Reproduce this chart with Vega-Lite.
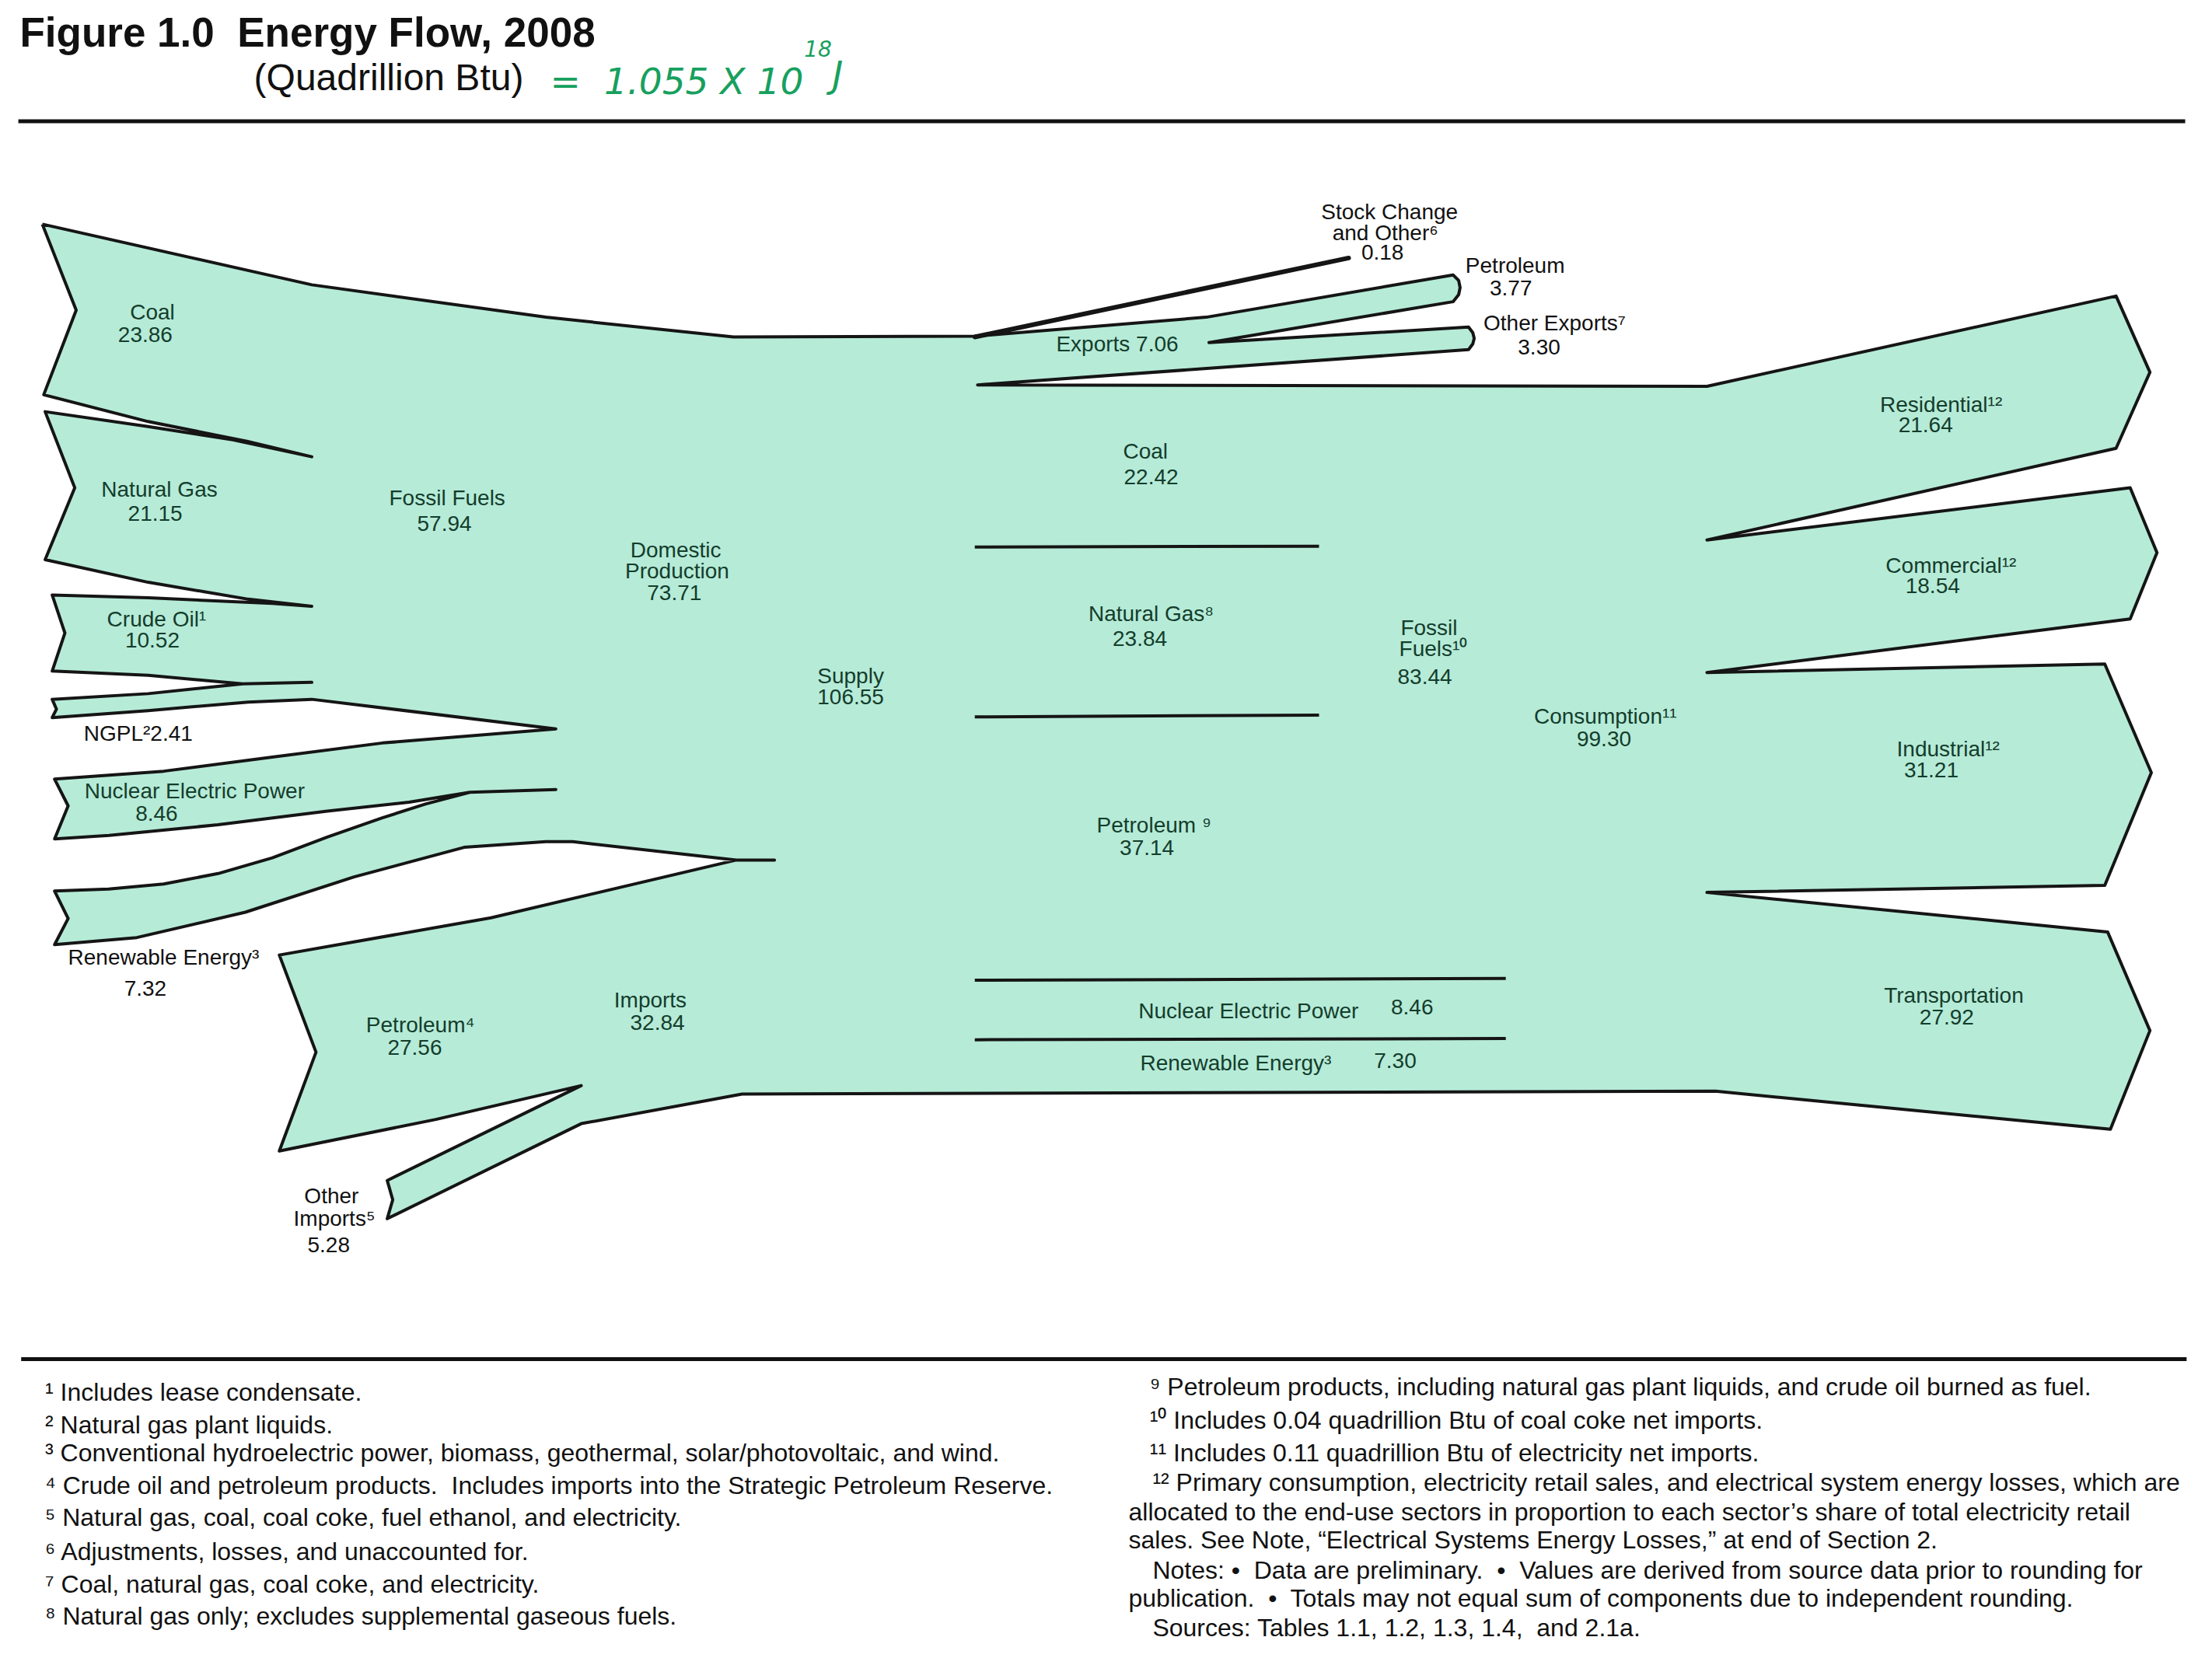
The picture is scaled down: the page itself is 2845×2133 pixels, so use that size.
{
  "$schema": "https://vega.github.io/schema/vega-lite/v6.json",
  "width": 2845,
  "height": 2133,
  "autosize": {"type": "fit", "contains": "padding"},
  "padding": 0,
  "background": "white",
  "config": {"view": {"stroke": null}, "text": {"font": "Liberation Sans"}},
  "datasets": {
    "outline": [
      {"i":0,"x":30,"y":159},{"i":1,"x":221,"y":202},{"i":2,"x":387,"y":225},{"i":3,"x":520,"y":239},{"i":4,"x":691,"y":238.5},
      {"i":5,"x":855,"y":225},{"i":6,"x":1030,"y":195},{"i":7,"x":1034,"y":199},{"i":8,"x":1035,"y":204},{"i":9,"x":1034,"y":209},{"i":10,"x":1030,"y":214},
      {"i":11,"x":857,"y":243},{"i":12,"x":1041,"y":232},{"i":13,"x":1044,"y":236},{"i":14,"x":1045,"y":240},{"i":15,"x":1044,"y":244},{"i":16,"x":1041,"y":248},
      {"i":17,"x":693,"y":273},{"i":18,"x":1210,"y":274},{"i":19,"x":1500,"y":210},{"i":20,"x":1524,"y":264},{"i":21,"x":1500,"y":318},{"i":22,"x":1210,"y":383},
      {"i":23,"x":1510,"y":346},{"i":24,"x":1529,"y":392},{"i":25,"x":1510,"y":439},{"i":26,"x":1210,"y":477},
      {"i":27,"x":1492,"y":471},{"i":28,"x":1525,"y":548},{"i":29,"x":1492,"y":628},{"i":30,"x":1210,"y":633},
      {"i":31,"x":1494,"y":661},{"i":32,"x":1524,"y":731},{"i":33,"x":1496,"y":801},{"i":34,"x":1216,"y":774},
      {"i":35,"x":526,"y":776},{"i":36,"x":412,"y":797},{"i":37,"x":274.5,"y":864.4},{"i":38,"x":278.4,"y":851},{"i":39,"x":274.5,"y":837.3},
      {"i":40,"x":412,"y":770},{"i":41,"x":309,"y":794},{"i":42,"x":198,"y":816.4},{"i":43,"x":224,"y":746.3},{"i":44,"x":198,"y":677.4},
      {"i":45,"x":348,"y":651},{"i":46,"x":522,"y":610},{"i":47,"x":549,"y":610},{"i":48,"x":522,"y":610},
      {"i":49,"x":406,"y":597},{"i":50,"x":387,"y":597},{"i":51,"x":329,"y":601},{"i":52,"x":251,"y":622},{"i":53,"x":174,"y":647},{"i":54,"x":97,"y":665},
      {"i":55,"x":38.7,"y":670},{"i":56,"x":48.3,"y":651.5},{"i":57,"x":38.7,"y":632},
      {"i":58,"x":77,"y":630.6},{"i":59,"x":116,"y":627},{"i":60,"x":154.6,"y":619.6},{"i":61,"x":193,"y":608.5},{"i":62,"x":232,"y":593.7},{"i":63,"x":270.6,"y":580.2},{"i":64,"x":301.6,"y":570.3},
      {"i":65,"x":333,"y":562},{"i":66,"x":394,"y":560},{"i":67,"x":333,"y":562},
      {"i":68,"x":290,"y":569},{"i":69,"x":232,"y":575.3},{"i":70,"x":154.6,"y":585},{"i":71,"x":77.3,"y":592.5},{"i":72,"x":38.7,"y":595},
      {"i":73,"x":48.3,"y":571.6},{"i":74,"x":38.7,"y":552.6},
      {"i":75,"x":116,"y":547},{"i":76,"x":193,"y":537},{"i":77,"x":271,"y":527},{"i":78,"x":394,"y":517},
      {"i":79,"x":221,"y":496},{"i":80,"x":176,"y":498},{"i":81,"x":105,"y":504},{"i":82,"x":37,"y":509},{"i":83,"x":40,"y":503},{"i":84,"x":37,"y":496},
      {"i":85,"x":105,"y":492},{"i":86,"x":172,"y":485},{"i":87,"x":221,"y":484},{"i":88,"x":172,"y":485},{"i":89,"x":105,"y":479},{"i":90,"x":37,"y":476},
      {"i":91,"x":46,"y":449},{"i":92,"x":37,"y":422},{"i":93,"x":105,"y":424},{"i":94,"x":193,"y":428},{"i":95,"x":221,"y":430},
      {"i":96,"x":176,"y":425},{"i":97,"x":105,"y":413},{"i":98,"x":32,"y":397},{"i":99,"x":53,"y":346},{"i":100,"x":32,"y":292},
      {"i":101,"x":105,"y":302.5},{"i":102,"x":165,"y":312},{"i":103,"x":221,"y":324},{"i":104,"x":175,"y":313},{"i":105,"x":105,"y":299},
      {"i":106,"x":31,"y":280},{"i":107,"x":54,"y":220},{"i":108,"x":30,"y":159}
    ],
    "dividers": [
      {"seg":"a","i":0,"x":691,"y":388},{"seg":"a","i":1,"x":935,"y":387.4},
      {"seg":"b","i":0,"x":691,"y":508.5},{"seg":"b","i":1,"x":935,"y":507.2},
      {"seg":"c","i":0,"x":691,"y":695.3},{"seg":"c","i":1,"x":1067.4,"y":694},
      {"seg":"d","i":0,"x":691,"y":737.5},{"seg":"d","i":1,"x":1067.4,"y":736.6}
    ],
    "stock": [{"i":0,"x":691,"y":239},{"i":1,"x":956,"y":183}],
    "rules": [
      {"seg":"top","i":0,"x":13,"y":86},{"seg":"top","i":1,"x":1549,"y":86},
      {"seg":"bot","i":0,"x":15,"y":964},{"seg":"bot","i":1,"x":1550,"y":964}
    ],
    "inLabels": [
      {"x":108,"y":222,"t":"Coal"},{"x":103,"y":238,"t":"23.86"},
      {"x":113,"y":348,"t":"Natural Gas"},{"x":110,"y":365,"t":"21.15"},
      {"x":111,"y":440,"t":"Crude Oil¹"},{"x":108,"y":455,"t":"10.52"},
      {"x":138,"y":562,"t":"Nuclear Electric Power"},{"x":111,"y":578,"t":"8.46"},
      {"x":317,"y":354,"t":"Fossil Fuels"},{"x":315,"y":372,"t":"57.94"},
      {"x":479,"y":391,"t":"Domestic"},{"x":480,"y":406,"t":"Production"},{"x":478,"y":421,"t":"73.71"},
      {"x":603,"y":480,"t":"Supply"},{"x":603,"y":495,"t":"106.55"},
      {"x":298,"y":728,"t":"Petroleum⁴"},{"x":294,"y":744,"t":"27.56"},
      {"x":461,"y":710,"t":"Imports"},{"x":466,"y":726,"t":"32.84"},
      {"x":792,"y":245,"t":"Exports 7.06"},
      {"x":812,"y":321,"t":"Coal"},{"x":816,"y":339,"t":"22.42"},
      {"x":816,"y":436,"t":"Natural Gas⁸"},{"x":808,"y":454,"t":"23.84"},
      {"x":1013,"y":446,"t":"Fossil"},{"x":1016,"y":461,"t":"Fuels¹⁰"},{"x":1010,"y":481,"t":"83.44"},
      {"x":818,"y":586,"t":"Petroleum ⁹"},{"x":813,"y":602,"t":"37.14"},
      {"x":885,"y":718,"t":"Nuclear Electric Power"},{"x":1001,"y":715,"t":"8.46"},
      {"x":876,"y":755,"t":"Renewable Energy³"},{"x":989,"y":753,"t":"7.30"},
      {"x":1138,"y":509,"t":"Consumption¹¹"},{"x":1137,"y":525,"t":"99.30"},
      {"x":1376,"y":288,"t":"Residential¹²"},{"x":1365,"y":302,"t":"21.64"},
      {"x":1383,"y":402,"t":"Commercial¹²"},{"x":1370,"y":416,"t":"18.54"},
      {"x":1381,"y":532,"t":"Industrial¹²"},{"x":1369,"y":547,"t":"31.21"},
      {"x":1385,"y":707,"t":"Transportation"},{"x":1380,"y":722,"t":"27.92"}
    ],
    "outLabels": [
      {"x":98,"y":521,"t":"NGPL²2.41"},
      {"x":116,"y":680,"t":"Renewable Energy³"},{"x":103,"y":702,"t":"7.32"},
      {"x":235,"y":849,"t":"Other"},{"x":237,"y":865,"t":"Imports⁵"},{"x":233,"y":884,"t":"5.28"},
      {"x":985,"y":151,"t":"Stock Change"},{"x":982,"y":166,"t":"and Other⁶"},{"x":980,"y":180,"t":"0.18"},
      {"x":1074,"y":189,"t":"Petroleum"},{"x":1071,"y":205,"t":"3.77"},
      {"x":1102,"y":230,"t":"Other Exports⁷"},{"x":1091,"y":247,"t":"3.30"}
    ],
    "footnotes": [
      {"x":32,"y":988,"t":"¹ Includes lease condensate."},
      {"x":32,"y":1011,"t":"² Natural gas plant liquids."},
      {"x":32,"y":1031,"t":"³ Conventional hydroelectric power, biomass, geothermal, solar/photovoltaic, and wind."},
      {"x":32,"y":1054,"t":"⁴ Crude oil and petroleum products.\u00a0 Includes imports into the Strategic Petroleum Reserve."},
      {"x":32,"y":1077,"t":"⁵ Natural gas, coal, coal coke, fuel ethanol, and electricity."},
      {"x":32,"y":1101,"t":"⁶ Adjustments, losses, and unaccounted for."},
      {"x":32,"y":1124,"t":"⁷ Coal, natural gas, coal coke, and electricity."},
      {"x":32,"y":1147,"t":"⁸ Natural gas only; excludes supplemental gaseous fuels."},
      {"x":815,"y":984,"t":"⁹ Petroleum products, including natural gas plant liquids, and crude oil burned as fuel."},
      {"x":815,"y":1008,"t":"¹⁰ Includes 0.04 quadrillion Btu of coal coke net imports."},
      {"x":815,"y":1031,"t":"¹¹ Includes 0.11 quadrillion Btu of electricity net imports."},
      {"x":817,"y":1052,"t":"¹² Primary consumption, electricity retail sales, and electrical system energy losses, which are"},
      {"x":800,"y":1073,"t":"allocated to the end-use sectors in proportion to each sector’s share of total electricity retail"},
      {"x":800,"y":1093,"t":"sales. See Note, “Electrical Systems Energy Losses,” at end of Section 2."},
      {"x":817,"y":1114,"t":"Notes: •\u00a0 Data are preliminary.\u00a0 •\u00a0 Values are derived from source data prior to rounding for"},
      {"x":800,"y":1134,"t":"publication.\u00a0 •\u00a0 Totals may not equal sum of components due to independent rounding."},
      {"x":817,"y":1155,"t":"Sources: Tables 1.1, 1.2, 1.3, 1.4,\u00a0 and 2.1a."}
    ],
    "title": [{"x":14,"y":24,"t":"Figure 1.0\u00a0 Energy Flow, 2008"}],
    "subtitle": [{"x":180,"y":56,"t":"(Quadrillion Btu)"}],
    "note": [{"x":390,"y":59,"t":"=\u00a0 1.055 X 10"},{"x":590,"y":54,"t":"J"}],
    "noteSup": [{"x":570,"y":36,"t":"18"}]
  },
  "encoding": {
    "x": {"field": "x", "type": "quantitative", "scale": {"domain": [0, 1568], "nice": false, "zero": false}, "axis": null},
    "y": {"field": "y", "type": "quantitative", "scale": {"domain": [0, 1176], "nice": false, "zero": false, "reverse": true}, "axis": null}
  },
  "layer": [
    {
      "data": {"name": "outline"},
      "mark": {"type": "line", "fill": "#b6ebd8", "stroke": "#151515", "strokeWidth": 4, "strokeJoin": "round"},
      "encoding": {"order": {"field": "i", "type": "quantitative"}}
    },
    {
      "data": {"name": "dividers"},
      "mark": {"type": "line", "stroke": "#151515", "strokeWidth": 4},
      "encoding": {"detail": {"field": "seg"}, "order": {"field": "i", "type": "quantitative"}}
    },
    {
      "data": {"name": "stock"},
      "mark": {"type": "line", "stroke": "#151515", "strokeWidth": 6, "strokeCap": "round"},
      "encoding": {"order": {"field": "i", "type": "quantitative"}}
    },
    {
      "data": {"name": "rules"},
      "mark": {"type": "line", "stroke": "#111111", "strokeWidth": 5},
      "encoding": {"detail": {"field": "seg"}, "order": {"field": "i", "type": "quantitative"}}
    },
    {
      "data": {"name": "inLabels"},
      "mark": {"type": "text", "align": "center", "baseline": "middle", "fontSize": 28, "color": "#143d2b"},
      "encoding": {"text": {"field": "t"}}
    },
    {
      "data": {"name": "outLabels"},
      "mark": {"type": "text", "align": "center", "baseline": "middle", "fontSize": 28, "color": "#111111"},
      "encoding": {"text": {"field": "t"}}
    },
    {
      "data": {"name": "footnotes"},
      "mark": {"type": "text", "align": "left", "baseline": "middle", "fontSize": 32, "color": "#111111"},
      "encoding": {"text": {"field": "t"}}
    },
    {
      "data": {"name": "title"},
      "mark": {"type": "text", "align": "left", "baseline": "middle", "fontSize": 53, "fontWeight": "bold", "color": "#111111"},
      "encoding": {"text": {"field": "t"}}
    },
    {
      "data": {"name": "subtitle"},
      "mark": {"type": "text", "align": "left", "baseline": "middle", "fontSize": 48, "color": "#111111"},
      "encoding": {"text": {"field": "t"}}
    },
    {
      "data": {"name": "note"},
      "mark": {"type": "text", "align": "left", "baseline": "middle", "fontSize": 47, "fontStyle": "italic", "font": "DejaVu Sans", "color": "#17a05e"},
      "encoding": {"text": {"field": "t"}}
    },
    {
      "data": {"name": "noteSup"},
      "mark": {"type": "text", "align": "left", "baseline": "middle", "fontSize": 28, "fontStyle": "italic", "font": "DejaVu Sans", "color": "#17a05e"},
      "encoding": {"text": {"field": "t"}}
    }
  ]
}
